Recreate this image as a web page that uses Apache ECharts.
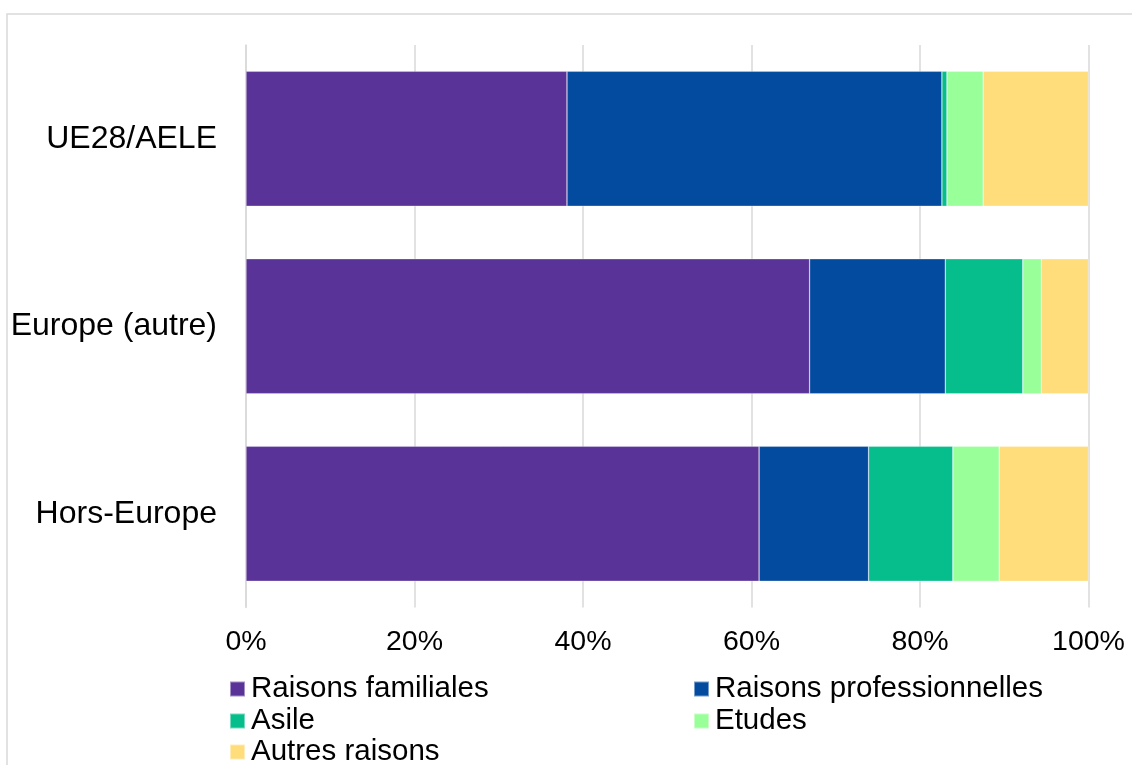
<!DOCTYPE html>
<html>
<head>
<meta charset="utf-8">
<script src="https://cdn.jsdelivr.net/npm/echarts@6/dist/echarts.min.js"></script>
<style>
  html, body { margin: 0; padding: 0; background: #fff; }
  #chart { width: 1132px; height: 765px; }
</style>
</head>
<body>
<div id="chart"></div>
<script>
// Origin groups, top to bottom
const categories = ['UE28/AELE', 'Europe (autre)', 'Hors-Europe'];

// Share of each reason for immigration (%), per origin group
const familiales      = [38.1, 66.9, 60.9];
const professionnelles = [44.5, 16.1, 13.0];
const asile           = [0.6, 9.2, 10.0];
const etudes          = [4.3, 2.2, 5.5];
const autres          = [12.5, 5.6, 10.6];

const seriesNames = ['Raisons familiales', 'Raisons professionnelles', 'Asile', 'Etudes', 'Autres raisons'];
const seriesData = [familiales, professionnelles, asile, etudes, autres];
const colors = ['#5A3399', '#034B9E', '#05BE8B', '#99FF99', '#FFDD7B'];

const tickLabels = ['0%', '20%', '40%', '60%', '80%', '100%'];

const font = '"Liberation Sans", Arial, sans-serif';

// Legend laid out in two columns, one legend block per entry
const legendSlots = [
  { left: 229, top: 674 },
  { left: 693, top: 674 },
  { left: 229, top: 706 },
  { left: 693, top: 706 },
  { left: 229, top: 737 }
];

const chart = echarts.init(document.getElementById('chart'), null, { renderer: 'canvas' });

chart.setOption({
  backgroundColor: '#ffffff',
  animation: false,
  color: colors,
  graphic: [{
    type: 'rect',
    shape: { x: 7, y: 14, width: 1200, height: 800 },
    style: { fill: 'none', stroke: '#D9D9D9', lineWidth: 1.5 },
    silent: true,
    z: -10
  }],
  grid: { left: 246, right: 43.5, top: 45, bottom: 157.5, containLabel: false },
  xAxis: {
    type: 'value',
    min: 0,
    max: 100,
    interval: 20,
    axisLine: { show: false },
    axisTick: { show: false },
    splitLine: { show: true, lineStyle: { color: '#D9D9D9', width: 1.5 } },
    axisLabel: {
      margin: 20,
      fontFamily: font,
      fontSize: 28.5,
      color: '#000',
      formatter: v => tickLabels[Math.round(v / 20)]
    }
  },
  yAxis: {
    type: 'category',
    inverse: true,
    data: categories,
    axisLine: { show: true, lineStyle: { color: '#D9D9D9', width: 1.5 } },
    axisTick: { show: false },
    axisLabel: {
      margin: 29,
      fontFamily: font,
      fontSize: 32,
      color: '#000'
    }
  },
  legend: seriesNames.map((name, i) => ({
    data: [name],
    left: legendSlots[i].left,
    top: legendSlots[i].top,
    padding: 0,
    icon: 'rect',
    itemWidth: 15,
    itemHeight: 15,
    itemGap: 0,
    selectedMode: false,
    textStyle: { fontFamily: font, fontSize: 29.5, color: '#000', lineHeight: 30, padding: [0, 0, 0, 1] }
  })),
  series: seriesNames.map((name, i) => ({
    name: name,
    type: 'bar',
    stack: 'total',
    barCategoryGap: '28%',
    data: seriesData[i],
    itemStyle: { color: colors[i], borderColor: 'rgba(255,255,255,0.45)', borderWidth: 0.6 }
  }))
});
</script>
</body>
</html>
